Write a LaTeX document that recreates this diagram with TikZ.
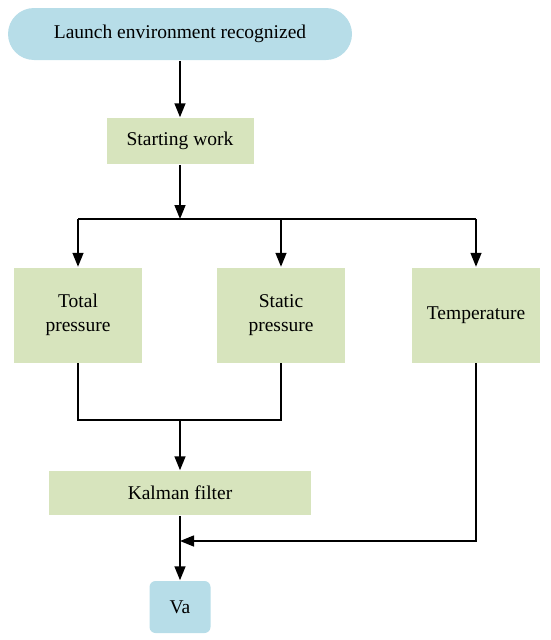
\documentclass[tikz,border=0pt]{standalone}
\usepackage{fontspec}
\setmainfont{Liberation Serif}
\usetikzlibrary{arrows.meta}
\definecolor{boxblue}{RGB}{183,221,232}
\definecolor{boxgreen}{RGB}{215,228,189}

\begin{document}
\begin{tikzpicture}[x=1pt, y=-1pt, font=\fontsize{19.5}{24}\selectfont, line join=miter, line width=1.5pt, >={Triangle[length=14pt,width=11pt]}]
			\tikzset{gbox/.style={fill=boxgreen, inner sep=0pt, align=center},
				bbox/.style={fill=boxblue, inner sep=0pt, align=center}}
			\useasboundingbox (0,0) rectangle (550,640);
			
			\node[bbox, rounded corners=26pt, minimum width=344pt, minimum height=52pt] (launch) at (180,34) {Launch environment recognized};
			\node[gbox, minimum width=147pt, minimum height=46pt] (start) at (180,141) {Starting work};
			\node[gbox, minimum width=128pt, minimum height=95pt] (total) at (78,315) {Total\\pressure};
			\node[gbox, minimum width=128pt, minimum height=95pt] (static) at (281,315) {Static\\pressure};
			\node[gbox, minimum width=128pt, minimum height=95pt] (temp) at (476,315) {Temperature};
			\node[gbox, minimum width=262pt, minimum height=44pt] (kalman) at (180,493) {Kalman filter};
			\node[bbox, rounded corners=6pt, minimum width=61pt, minimum height=52pt] (va) at (180,607) {Va};
			
			\path 
			(180,219) coordinate (bus)
			(180,420) coordinate (merge)
			(180,541) coordinate (join)
			;
			\draw[->] (launch) -- (start);
			\draw[->] (start) -- (bus);
			\draw (total.north |- bus) -- (temp.north |- bus);
			\foreach \n in {total,static,temp} \draw[->] (\n.north |- bus) -- (\n);
			\draw (total.south) |- (static.south |- merge) -- (static.south);
			\draw[->] (merge) -- (kalman);
			\draw[->] (kalman) -- (va);
			\draw[->] (temp) |- (join);
		\end{tikzpicture}
\end{document}
